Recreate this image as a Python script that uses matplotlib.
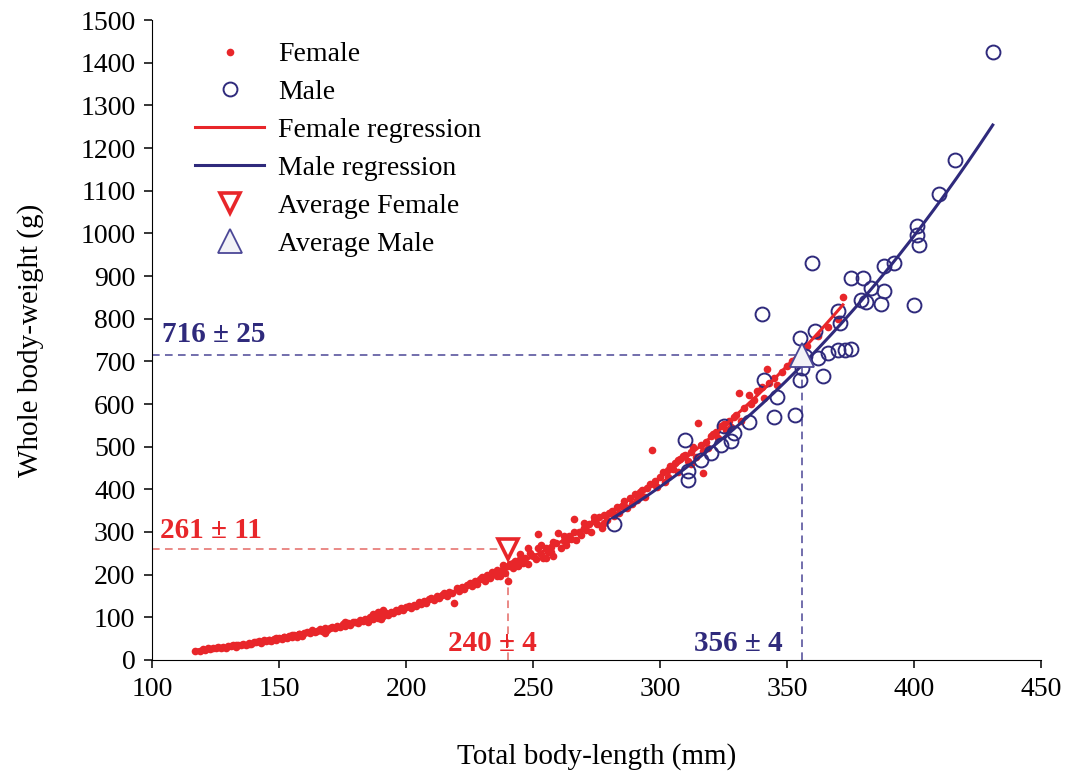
import matplotlib
matplotlib.use('Agg')
import matplotlib.pyplot as plt
import numpy as np

plt.rcParams['font.family'] = ['Liberation Serif', 'DejaVu Serif']

RED = '#e8262a'
NAVY = '#2f2a7c'

# female measurements (total length mm, whole weight g)
female_len = [117, 119, 120, 121, 122, 123, 124, 125, 126, 127, 128, 129, 130, 131, 132, 133, 134, 135, 136, 137,
              138, 139, 140, 141, 142, 143, 144, 145, 146, 147, 148, 149, 150, 151, 152, 153, 154, 155, 156, 157,
              158, 159, 160, 133, 138, 143, 146, 149, 152, 155, 158, 161, 162, 163, 164, 165, 166, 167, 168, 169,
              170, 171, 172, 173, 174, 175, 176, 177, 178, 179, 180, 181, 182, 183, 184, 185, 186, 187, 188, 189,
              190, 191, 192, 193, 194, 195, 196, 197, 198, 199, 200, 185, 187, 189, 190, 191, 176, 168,
              201, 202, 203, 204, 205, 206, 207, 208, 209, 210, 211, 212, 213, 214, 215, 216, 217, 218, 219, 220,
              221, 222, 223, 224, 225, 226, 227, 228, 229, 230, 231, 232, 233, 234, 235, 236, 237, 238, 239, 240,
              240, 238, 242, 236,
              241, 242, 243, 244, 245, 246, 247, 248, 249, 250, 251, 252, 253, 254, 255, 256, 257, 258, 259, 260,
              261, 262, 263, 264, 265, 266, 267, 268, 269, 270, 271, 272, 273, 274, 275, 276, 277, 278, 279, 280,
              245, 248, 252, 255, 258, 262, 266, 270, 274, 278, 253, 257, 263,
              281, 282, 283, 284, 285, 286, 287, 288, 289, 290, 291, 292, 293, 294, 295, 296, 297, 298, 299, 300,
              301, 302, 303, 304, 305, 306, 307, 308, 309, 310, 311, 312, 313, 314, 315, 316, 317, 318, 319, 320,
              286, 292, 298, 303, 307, 312, 317, 321,
              322, 323, 324, 325, 326, 327, 328, 329, 330, 331, 332, 333, 335, 336, 337, 338, 340, 341, 342, 343,
              345, 346, 348, 350, 352, 355, 358, 362, 366, 370, 372]
female_wt = [20, 22, 25, 24, 27, 25, 28, 27, 30, 29, 31, 28, 33, 32, 34, 31, 36, 35, 38, 36,
             40, 37, 42, 41, 44, 40, 46, 45, 48, 44, 50, 47, 52, 49, 55, 51, 57, 54, 58, 55,
             61, 57, 63, 35, 38, 43, 47, 51, 53, 59, 60, 66, 64, 70, 65, 68, 72, 69, 74, 71,
             76, 78, 74, 80, 77, 84, 79, 86, 83, 88, 90, 87, 93, 91, 97, 95, 101, 96, 104, 99,
             108, 103, 110, 106, 113, 110, 118, 114, 121, 117, 124, 90, 108, 112, 96, 118, 90, 63,
             126, 122, 130, 127, 135, 131, 138, 134, 142, 146, 140, 150, 145, 153, 158, 150, 160, 156, 134, 168,
             162, 172, 166, 176, 180, 174, 184, 178, 190, 194, 186, 199, 192, 206, 202, 210, 198, 214, 205, 220,
             185, 222, 228, 196,
             224, 216, 232, 221, 236, 228, 240, 226, 250, 244, 236, 295, 248, 240, 262, 252, 266, 244, 274, 298,
             262, 280, 270, 290, 284, 330, 282, 300, 292, 310, 304, 318, 300, 325, 318, 334, 310, 340, 328, 345,
             248, 262, 262, 240, 276, 290, 300, 320, 335, 322, 270, 252, 278,
             350, 338, 358, 345, 362, 372, 356, 380, 366, 388, 376, 394, 398, 382, 404, 412, 492, 420, 405, 430,
             440, 418, 446, 455, 448, 462, 440, 470, 478, 480, 466, 488, 500, 476, 555, 505, 438, 512, 498, 525,
             360, 385, 410, 430, 468, 460, 490, 530,
             535, 520, 548, 552, 540, 560, 545, 570, 575, 626, 560, 590, 621, 600, 610, 630, 640, 615, 681, 650,
             660, 645, 675, 690, 700, 720, 735, 760, 780, 800, 851]

# male measurements
male_len = [282, 310, 311, 311, 316, 320, 324, 325, 328, 329, 335, 340, 341, 345, 346, 353, 355, 356, 355, 357,
            361, 362, 364, 366, 370, 373, 375, 360, 370, 371, 375, 380, 379, 381, 383, 387, 388, 388, 392, 400,
            401, 401, 402, 410, 416, 431]
male_wt = [318, 515, 443, 422, 469, 484, 503, 549, 514, 533, 558, 812, 657, 569, 616, 575, 656, 684, 755, 712,
           770, 708, 666, 720, 726, 726, 728, 930, 819, 789, 896, 896, 844, 840, 871, 834, 865, 923, 930, 832,
           1017, 996, 972, 1092, 1172, 1424]

avg_female = (240, 261)
avg_male = (356, 716)
female_text = ['261 ± 11', '240 ± 4']
male_text = ['716 ± 25', '356 ± 4']

fig = plt.figure(figsize=(10.79, 7.76), dpi=100)
ax = fig.add_axes([0.1409, 0.1495, 0.8239, 0.8247])

# guide lines to the averages
ax.plot([100, avg_female[0]], [avg_female[1]] * 2, ls=(0, (5, 3.5)), color='#e46a66', lw=1.1, zorder=1)
ax.plot([avg_female[0]] * 2, [0, avg_female[1]], ls=(0, (5, 3.5)), color='#e46a66', lw=1.1, zorder=1)
ax.plot([100, avg_male[0]], [avg_male[1]] * 2, ls=(0, (5, 3.5)), color='#4b4796', lw=1.1, zorder=1)
ax.plot([avg_male[0]] * 2, [0, avg_male[1]], ls=(0, (5, 3.5)), color='#4b4796', lw=1.1, zorder=1)

ax.plot(female_len, female_wt, 'o', color=RED, ms=5.5, mec='none', ls='None', label='Female', zorder=3)
ax.plot(male_len, male_wt, 'o', mfc='none', mec=NAVY, ms=10, mew=1.4, ls='None', label='Male', zorder=4)

# power-law regressions fitted in log space
fl = np.array(female_len, float)
bf, af = np.polyfit(np.log(fl), np.log(female_wt), 1)
xf = np.linspace(fl.min(), fl.max(), 200)
ax.plot(xf, np.exp(af) * xf ** bf, color=RED, lw=2.2, label='Female regression', zorder=5)

ml = np.array(male_len, float)
bm, am = np.polyfit(np.log(ml), np.log(male_wt), 1)
xm = np.linspace(ml.min(), ml.max(), 200)
ax.plot(xm, np.exp(am) * xm ** bm, color=NAVY, lw=2.2, label='Male regression', zorder=5)

ax.plot(*avg_female, 'v', mfc='white', mec=RED, ms=15, mew=2.6, ls='None', label='Average Female', zorder=6)
ax.plot(*avg_male, '^', mfc='#f2f2f7', mec='#4b4796', ms=17, mew=1.3, ls='None', label='Average Male', zorder=6)

ax.text(103, 272, female_text[0], color=RED, fontsize=21, fontweight='bold', ha='left', va='bottom')
ax.text(234, 38, female_text[1], color=RED, fontsize=21, fontweight='bold', ha='center', va='center')
ax.text(104, 732, male_text[0], color=NAVY, fontsize=21, fontweight='bold', ha='left', va='bottom')
ax.text(331, 38, male_text[1], color=NAVY, fontsize=21, fontweight='bold', ha='center', va='center')

ax.set_xlim(100, 450)
ax.set_ylim(0, 1500)
ax.set_xticks(np.arange(100, 451, 50))
ax.set_yticks(np.arange(0, 1501, 100))
ax.spines['top'].set_visible(False)
ax.spines['right'].set_visible(False)
ax.tick_params(direction='out', length=6, width=1.1, labelsize=20, pad=6)
ax.set_xlabel('Total body-length (mm)', fontsize=21, labelpad=30)
ax.set_ylabel('Whole body-weight (g)', fontsize=21, labelpad=26)

ax.legend(loc='upper left', bbox_to_anchor=(0.02, 1.005), frameon=False, fontsize=20,
          handlelength=2.5, handletextpad=0.5, labelspacing=0.45, numpoints=1)

fig.savefig('out.png', dpi=100)
